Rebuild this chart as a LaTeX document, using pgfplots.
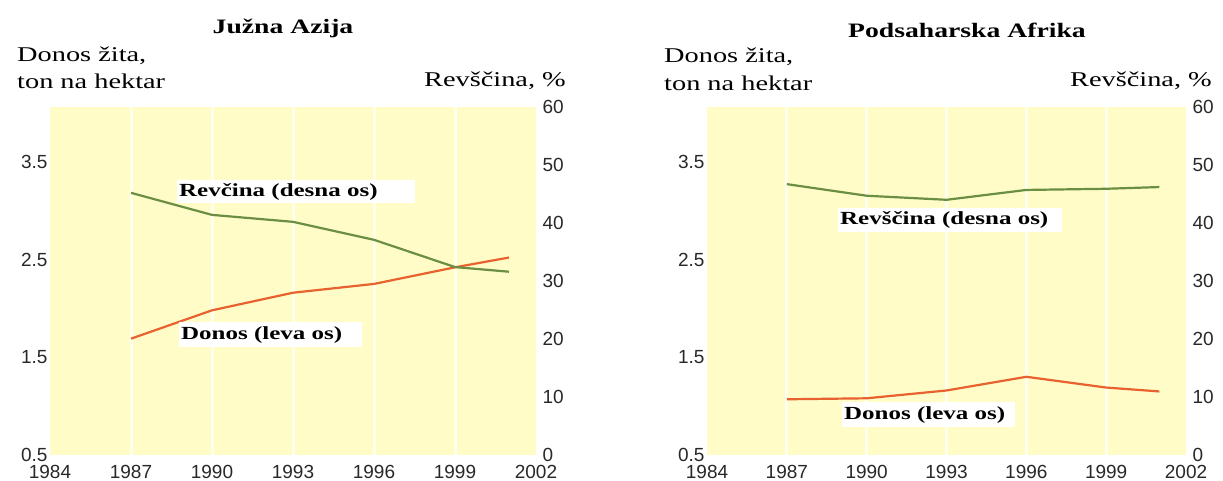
\documentclass[border=0pt]{standalone}
\usepackage{pgfplots}
\pgfplotsset{compat=1.18}
\usepackage{fontspec}
\setmainfont{Liberation Serif}[FakeStretch=1.35]
\newfontfamily\tickfont{Liberation Sans}
\definecolor{bgyel}{RGB}{255,252,200}
\definecolor{gridw}{RGB}{255,255,238}
\definecolor{grn}{RGB}{106,142,66}
\definecolor{org}{RGB}{232,98,48}
\definecolor{tickgray}{RGB}{40,40,40}

\pgfplotsset{
  panel/.style={
    scale only axis, width=486pt, height=348pt,
    anchor=south west,
    xmin=1984, xmax=2002,
    axis line style={draw=none},
    major tick length=0pt,
    tick style={draw=none},
    /pgf/number format/assume math mode=true,
    /pgf/number format/1000 sep={},
    tick label style={font=\tickfont\fontsize{19}{19}\selectfont, text=tickgray},
    clip=false,
  },
  leftax/.style={
    panel,
    ymin=0.5, ymax=4.06,
    ytick={0.5,1.5,2.5,3.5},
    yticklabel style={/pgf/number format/fixed, /pgf/number format/precision=1, xshift=1pt},
    xtick={1984,1987,...,2002},
    xticklabel style={yshift=-7pt},
    extra x ticks={1987,1990,1993,1996,1999},
    extra x tick labels={},
    extra x tick style={grid=major, major grid style={gridw, line width=3pt}},
    axis background/.style={fill=bgyel},
  },
  rightax/.style={
    panel,
    ymin=0, ymax=60,
    ytick={0,10,...,60},
    axis y line*=right,
    axis x line=none,
    yticklabel style={xshift=3pt},
  },
}
\tikzset{
  ann/.style={anchor=west, inner sep=0pt, font=\bfseries\fontsize{18.5}{18.5}\selectfont},
  hdr/.style={inner sep=0pt, font=\fontsize{21}{21}\selectfont},
}

\begin{document}
\begin{tikzpicture}
\path[use as bounding box] (0,0) rectangle (1223pt,481pt);

% ---------------- Juzna Azija ----------------
\begin{axis}[leftax, at={(50pt,26pt)}]
\addplot[org, line width=2.2pt] coordinates {
 (1987,1.69) (1990,1.98) (1993,2.16) (1996,2.25) (1999,2.42) (2001,2.52)};
\end{axis}
\begin{axis}[rightax, at={(50pt,26pt)}]
\addplot[grn, line width=2.2pt] coordinates {
 (1987,45.2) (1990,41.4) (1993,40.2) (1996,37.1) (1999,32.4) (2001,31.6)};
\end{axis}

\fill[white] (177pt,278pt) rectangle (415pt,301pt);
\node[ann] at (179pt,289pt) {Revčina (desna os)};
\fill[white] (179pt,134pt) rectangle (362pt,159pt);
\node[ann] at (181pt,146pt) {Donos (leva os)};

\node[inner sep=0pt, font=\bfseries\fontsize{20.5}{20.5}\selectfont] at (283pt,453pt) {Južna Azija};
\node[hdr, anchor=west] at (17pt,425pt) {Donos žita,};
\node[hdr, anchor=west] at (17pt,400pt) {ton na hektar};
\node[hdr, anchor=east] at (566pt,400pt) {Revščina, \%};

% ---------------- Podsaharska Afrika ----------------
\begin{axis}[leftax, at={(707pt,26pt)}, width=479pt]
\addplot[org, line width=2.2pt] coordinates {
 (1987,1.07) (1990,1.08) (1993,1.16) (1996,1.30) (1999,1.19) (2001,1.15)};
\end{axis}
\begin{axis}[rightax, at={(707pt,26pt)}, width=479pt]
\addplot[grn, line width=2.2pt] coordinates {
 (1987,46.7) (1990,44.7) (1993,44.0) (1996,45.7) (1999,45.9) (2001,46.2)};
\end{axis}

\fill[white] (838pt,249pt) rectangle (1062pt,273pt);
\node[ann] at (840pt,261pt) {Revščina (desna os)};
\fill[white] (842pt,54pt) rectangle (1015pt,79pt);
\node[ann] at (844pt,66pt) {Donos (leva os)};

\node[inner sep=0pt, font=\bfseries\fontsize{20.5}{20.5}\selectfont] at (967pt,451pt) {Podsaharska Afrika};
\node[hdr, anchor=west] at (664pt,424pt) {Donos žita,};
\node[hdr, anchor=west] at (664pt,398pt) {ton na hektar};
\node[hdr, anchor=east] at (1212pt,400pt) {Revščina, \%};
\end{tikzpicture}
\end{document}
